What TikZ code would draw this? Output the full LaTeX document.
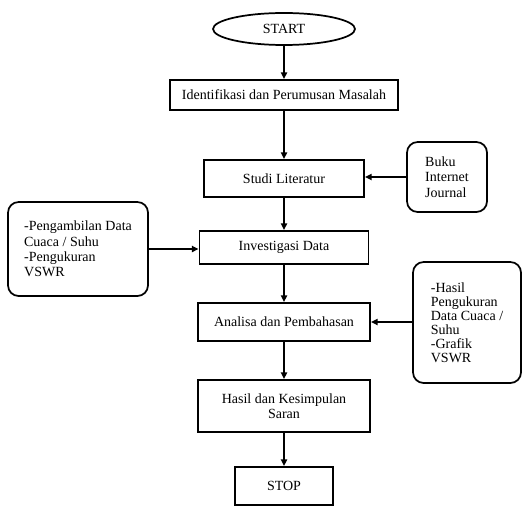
\documentclass[tikz,border=0pt]{standalone}
\usepackage{fontspec}
\setmainfont{Liberation Serif}
\usetikzlibrary{shapes.geometric,arrows.meta}
\begin{document}
\begin{tikzpicture}[x=0.75pt,y=-0.75pt,
  box/.style={draw,line width=1.3pt,inner sep=0pt,align=center,font=\fontsize{10.5}{11.5}\selectfont},
  note/.style={box,rounded corners=8pt,align=left},
  flow/.style={line width=1.3pt,-{Triangle[length=5pt,width=4.5pt]}}]
\useasboundingbox (0,0) rectangle (523,506);
\node[box,ellipse,minimum width=106.5pt,minimum height=24pt] (start) at (284,29) {START};
\node[box,minimum width=171pt,minimum height=22.5pt] (ident) at (284,95) {Identifikasi dan Perumusan Masalah};
\node[box,minimum width=120pt,minimum height=27.75pt] (studi) at (284,178.5) {Studi Literatur};
\node[box,minimum width=126.75pt,minimum height=24.75pt] (invest) at (284,247.5) {Investigasi Data};
\node[box,minimum width=129pt,minimum height=28.5pt] (analisa) at (284,322) {Analisa dan Pembahasan};
\node[box,minimum width=129pt,minimum height=39pt] (hasil) at (284,406) {Hasil dan Kesimpulan\\Saran};
\node[box,minimum width=73.5pt,minimum height=28.5pt] (stop) at (284,486) {STOP};

\node[note,minimum width=105pt,minimum height=70.5pt] (datain) at (78,249) {-Pengambilan Data\\Cuaca / Suhu\\-Pengukuran\\VSWR};
\node[note,minimum width=60pt,minimum height=52.5pt] (buku) at (447,177) {Buku\\Internet\\Journal};
\node[note,minimum width=81pt,minimum height=90.75pt,font=\fontsize{10.5}{10.5}\selectfont] (hasilukur) at (467,322.5) {-Hasil\\Pengukuran\\Data Cuaca /\\Suhu\\-Grafik\\VSWR};

\draw[flow] (start) -- (ident);
\draw[flow] (ident) -- (studi);
\draw[flow] (studi) -- (invest);
\draw[flow] (invest) -- (analisa);
\draw[flow] (analisa) -- (hasil);
\draw[flow] (hasil) -- (stop);
\draw[flow] (buku.west) -- (studi.east |- buku.west);
\draw[flow] (datain.east) -- (invest.west |- datain.east);
\draw[flow] (hasilukur.west |- analisa.east) -- (analisa.east);
\end{tikzpicture}
\end{document}
